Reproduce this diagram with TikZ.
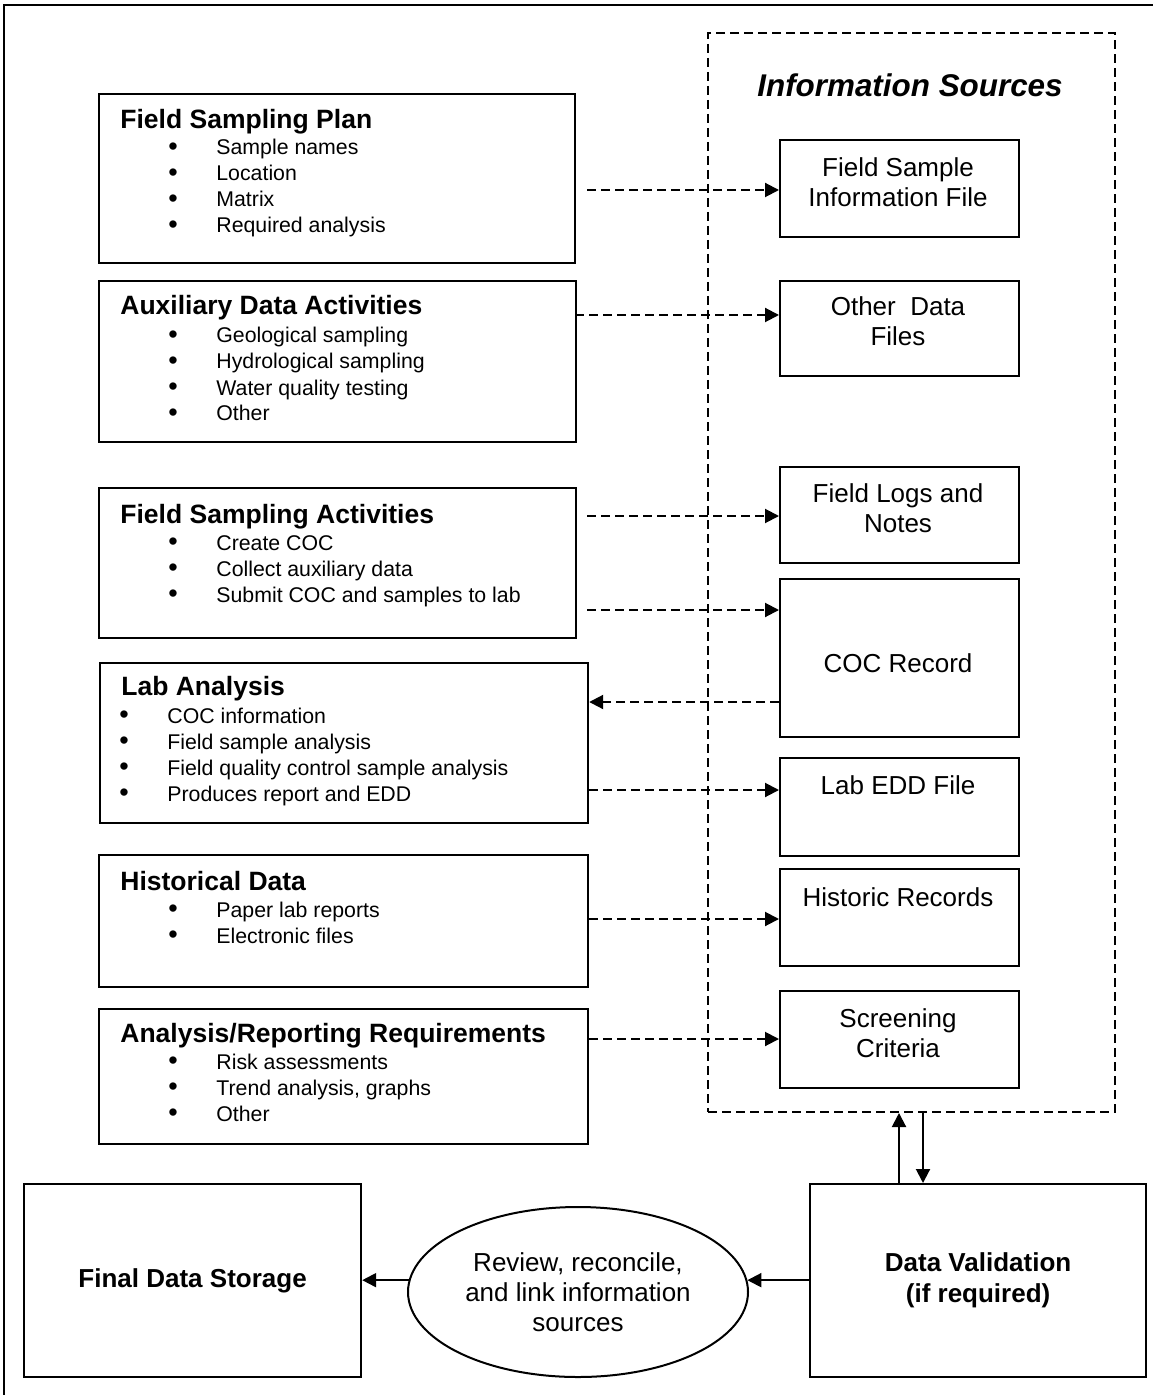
\documentclass[tikz,border=0pt]{standalone}
\usepackage{fontspec}
\setmainfont{Liberation Sans}
\usetikzlibrary{arrows.meta,shapes.geometric}
\newcommand\blt{\makebox[24pt][l]{\raisebox{-0.3pt}{\fontsize{13.5}{13}\selectfont\textbullet}}}
\begin{document}
\begin{tikzpicture}[x=0.5pt,y=-0.5pt,
  box/.style={draw,line width=1.1pt,rectangle,inner sep=0pt,anchor=north west},
  dbox/.style={draw,line width=1pt,dash pattern=on 4.5pt off 2.5pt,rectangle,inner sep=0pt,anchor=north west},
  ttl/.style={anchor=base west,inner sep=0pt,font=\fontsize{13.25}{15}\selectfont\bfseries},
  itm/.style={anchor=base west,inner sep=0pt,font=\fontsize{10.65}{13}\selectfont},
  rtxt/.style={inner sep=0pt,align=center,font=\fontsize{13}{15}\selectfont},
  darr/.style={line width=1pt,dash pattern=on 4.5pt off 2.5pt,-{Triangle[length=7pt,width=7pt]}},
  sarr/.style={line width=1pt,-{Triangle[length=7pt,width=7pt]}},
]
\useasboundingbox (0,0) rectangle (1153,1395);
% outer frame (cut off at right and bottom)
\draw[line width=1pt] (4,1395) -- (4,5) -- (1153,5);

% information sources dashed box
\node[dbox,minimum width=203.5pt,minimum height=539.5pt] (info) at (707,32) {};
\node[anchor=base,inner sep=0pt,font=\fontsize{15.7}{18}\selectfont\bfseries\itshape] (ist) at (910,97) {Information Sources};

% left boxes
\node[box,minimum width=238pt,minimum height=84.5pt] (fsp) at (98,93) {};
\node[box,minimum width=238.5pt,minimum height=80.5pt] (ada) at (98,280) {};
\node[box,minimum width=238.5pt,minimum height=75pt] (fsa) at (98,487) {};
\node[box,minimum width=244pt,minimum height=80pt] (lab) at (99,662) {};
\node[box,minimum width=244.5pt,minimum height=66pt] (hd) at (98,854) {};
\node[box,minimum width=244.5pt,minimum height=67.5pt] (ar) at (98,1008) {};

\node[ttl] (fspT) at (120,129) {Field Sampling Plan};
\foreach \t [count=\i] in {Sample names,Location,Matrix,Required analysis}
  \node[itm] (fsp\i) at (168,155+26*\i-26) {\blt\t};
\node[ttl] (adaT) at (120,315) {Auxiliary Data Activities};
\foreach \t [count=\i] in {Geological sampling,Hydrological sampling,Water quality testing,Other}
  \node[itm] (ada\i) at (168,343+26*\i-26) {\blt\t};
\node[ttl] (fsaT) at (120,523) {Field Sampling Activities};
\foreach \t [count=\i] in {Create COC,Collect auxiliary data,Submit COC and samples to lab}
  \node[itm] (fsa\i) at (168,550+26*\i-26) {\blt\t};
\node[ttl] (labT) at (121,695) {Lab Analysis};
\foreach \t [count=\i] in {COC information,Field sample analysis,Field quality control sample analysis,Produces report and EDD}
  \node[itm] (lab\i) at (119,723+26*\i-26) {\blt\t};
\node[ttl] (hdT) at (120,890) {Historical Data};
\foreach \t [count=\i] in {Paper lab reports,Electronic files}
  \node[itm] (hd\i) at (168,917+26*\i-26) {\blt\t};
\node[ttl] (arT) at (120,1042) {Analysis/Reporting Requirements};
\foreach \t [count=\i] in {Risk assessments,{Trend analysis, graphs},Other}
  \node[itm] (ar\i) at (168,1069+26*\i-26) {\blt\t};

% right boxes
\node[box,minimum width=119.5pt,minimum height=48.5pt] (fsif) at (779,139) {};
\node[box,minimum width=119.5pt,minimum height=47.5pt] (odf) at (779,280) {};
\node[box,minimum width=119.5pt,minimum height=48pt] (fln) at (779,466) {};
\node[box,minimum width=119.5pt,minimum height=79pt] (coc) at (779,578) {};
\node[box,minimum width=119.5pt,minimum height=49pt] (ledd) at (779,757) {};
\node[box,minimum width=119.5pt,minimum height=48.5pt] (hr) at (779,868) {};
\node[box,minimum width=119.5pt,minimum height=48.5pt] (sc) at (779,990) {};

\node[rtxt] (fsifT) at (898,182) {Field Sample\\Information File};
\node[rtxt] (odfT) at (898,321) {Other\ \ Data\\Files};
\node[rtxt] (flnT) at (898,508) {Field Logs and\\Notes};
\node[rtxt] (cocT) at (898,663) {COC Record};
\node[rtxt] (leddT) at (898,785) {Lab EDD File};
\node[rtxt] (hrT) at (898,897) {Historic Records};
\node[rtxt] (scT) at (898,1033) {Screening\\Criteria};

% bottom row
\node[box,minimum width=168.5pt,minimum height=96.5pt,font=\fontsize{13}{15.5}\selectfont\bfseries] (fds) at (23,1183) {Final Data Storage};
\node[draw,ellipse,line width=1pt,minimum width=170pt,minimum height=85pt,inner sep=0pt,align=center,font=\fontsize{13}{15}\selectfont] (rev) at (578,1292) {Review, reconcile,\\and link information\\sources};
\node[box,minimum width=168pt,minimum height=96.5pt,align=center,font=\fontsize{13}{15.5}\selectfont\bfseries] (dv) at (809,1183) {Data Validation\\(if required)};

% connector heights
\coordinate (y1) at (587,190);
\coordinate (y2) at (575,315);
\coordinate (y3) at (587,516);
\coordinate (y4) at (587,610);
\coordinate (y5) at (0,702);
\coordinate (y6) at (0,790);
\coordinate (y7) at (0,919);
\coordinate (y8) at (0,1039);
\coordinate (ux) at (899,0);
\coordinate (dx) at (923,0);

\draw[darr] (y1) -- (fsif.west |- y1);
\draw[darr] (y2) -- (odf.west |- y2);
\draw[darr] (y3) -- (fln.west |- y3);
\draw[darr] (y4) -- (coc.west |- y4);
\draw[darr] (coc.west |- y5) -- (lab.east |- y5);
\draw[darr] (lab.east |- y6) -- (ledd.west |- y6);
\draw[darr] (hd.east |- y7) -- (hr.west |- y7);
\draw[darr] (ar.east |- y8) -- (sc.west |- y8);

\draw[sarr] (dv.north -| ux) -- (info.south -| ux);
\draw[sarr] (info.south -| dx) -- (dv.north -| dx);
\draw[sarr] (dv.west |- rev.4) -- (rev.4);
\draw[sarr] (rev.176) -- (fds.east |- rev.176);
\end{tikzpicture}
\end{document}
